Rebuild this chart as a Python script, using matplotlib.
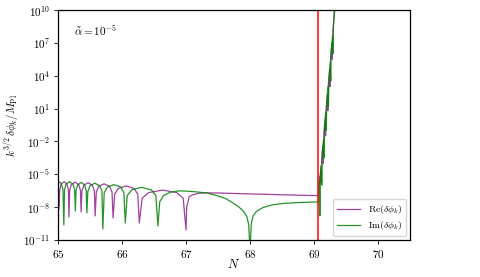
import numpy as np
import matplotlib
matplotlib.use("Agg")
import matplotlib.pyplot as plt

plt.rcParams['mathtext.fontset'] = 'cm'
plt.rcParams['font.family'] = 'serif'
plt.rcParams['font.serif'] = ['cmr10', 'DejaVu Serif']
plt.rcParams['axes.formatter.use_mathtext'] = True

# Re(delta phi_k): N and log10 of amplitude
re_N = [65.000, 65.016, 65.025, 65.047, 65.093, 65.139, 65.161,
        65.170, 65.181, 65.208, 65.265, 65.322, 65.349,
        65.360, 65.373, 65.404, 65.470, 65.536, 65.567,
        65.580, 65.597, 65.636, 65.720, 65.804, 65.843,
        65.860, 65.885, 65.942, 66.065, 66.188, 66.245,
        66.270, 66.314, 66.416, 66.635, 66.854, 66.956,
        67.000, 67.010, 67.050, 67.100, 67.200, 67.300, 67.500,
        68.000, 68.500, 69.070,
        69.080, 69.088, 69.095, 69.105, 69.112, 69.120, 69.140,
        69.147, 69.155, 69.175, 69.182, 69.190, 69.210, 69.217,
        69.225, 69.245, 69.252, 69.260, 69.280, 69.287, 69.295, 69.325]
re_log = [-6.50, -8.17, -6.43, -5.91, -5.68, -5.91, -6.43,
          -8.90, -6.47, -5.95, -5.72, -5.95, -6.47,
          -8.44, -6.53, -6.01, -5.78, -6.01, -6.53,
          -8.81, -6.63, -6.11, -5.88, -6.11, -6.63,
          -8.99, -6.82, -6.30, -6.07, -6.30, -6.82,
          -9.45, -7.20, -6.68, -6.45, -6.68, -7.20,
          -10.09, -8.00, -7.05, -6.90, -6.74, -6.70, -6.72,
          -6.80, -6.88, -6.96,
          -6.00, -5.20, -5.60, -4.60, -5.80, -3.80, -2.40,
          -4.00, -1.30, 0.00, -1.50, 1.00, 2.30, 0.80,
          3.20, 4.60, 3.00, 5.60, 7.00, 5.50, 7.90, 10.50]

# Im(delta phi_k)
im_N = [65.000, 65.050, 65.076, 65.090, 65.101, 65.126, 65.180, 65.234, 65.259,
        65.270, 65.281, 65.306, 65.360, 65.414, 65.439,
        65.450, 65.465, 65.500, 65.575, 65.650, 65.685,
        65.700, 65.721, 65.770, 65.875, 65.980, 66.029,
        66.050, 66.081, 66.152, 66.305, 66.458, 66.529,
        66.560, 66.590, 66.650, 66.750, 66.900, 67.100, 67.330, 67.500,
        67.610, 67.700, 67.820, 67.900, 67.950, 67.980,
        68.000, 68.020, 68.050, 68.100, 68.200, 68.350, 68.550, 68.800, 69.070,
        69.075, 69.085, 69.092, 69.100, 69.115, 69.122, 69.130, 69.150,
        69.158, 69.165, 69.185, 69.192, 69.200, 69.220, 69.226, 69.235,
        69.255, 69.262, 69.270, 69.290, 69.296, 69.305, 69.330]
im_log = [-5.63, -5.85, -6.40, -9.63, -6.43, -5.91, -5.68, -5.91, -6.43,
          -8.35, -6.50, -5.98, -5.75, -5.98, -6.50,
          -8.53, -6.57, -6.05, -5.82, -6.05, -6.57,
          -10.00, -6.70, -6.18, -5.95, -6.18, -6.70,
          -9.45, -6.95, -6.43, -6.20, -6.43, -6.95,
          -9.72, -7.50, -6.95, -6.65, -6.52, -6.58, -6.72, -6.98,
          -7.20, -7.50, -7.96, -8.40, -8.87, -9.60,
          -12.00, -9.50, -8.80, -8.40, -8.05, -7.80, -7.65, -7.58, -7.53,
          -7.50, -5.60, -8.80, -5.00, -4.20, -6.00, -3.00, -1.80,
          -3.50, -0.60, 0.70, -1.00, 1.60, 3.00, 1.20, 3.80,
          5.20, 3.50, 6.30, 7.60, 6.00, 8.60, 10.40]

N_cross = 69.07

fig = plt.figure(figsize=(4.8, 2.77), dpi=100)
ax = fig.add_axes([0.121, 0.134, 0.733, 0.830])

ax.plot(re_N, 10.0 ** np.array(re_log), color='purple', lw=0.9, alpha=0.75,
        label=r'$\mathrm{Re}(\delta\phi_k)$')
ax.plot(im_N, 10.0 ** np.array(im_log), color='green', lw=0.9, alpha=0.85,
        label=r'$\mathrm{Im}(\delta\phi_k)$')
ax.axvline(N_cross, color='red', lw=1.1)

ax.set_yscale('log')
ax.set_xlim(65, 70.5)
ax.set_ylim(1e-11, 1e10)
ax.set_yticks([10.0 ** e for e in range(-11, 11, 3)])
ax.minorticks_off()
ax.set_xticks([65, 66, 67, 68, 69, 70])
ax.tick_params(labelsize=8, length=3, width=0.6, pad=2.5)
for s in ax.spines.values():
    s.set_linewidth(0.9)

ax.set_xlabel(r'$N$', fontsize=9, labelpad=-1)
ax.set_ylabel(r'$k^{3/2}\,\delta\phi_k/M_{\rm Pl}$', fontsize=8, labelpad=2)
ax.text(0.045, 0.91, r'$\tilde{\alpha}=10^{-5}$', transform=ax.transAxes,
        fontsize=8, va='center')
ax.legend(loc='lower right', fontsize=7, handlelength=2.4,
          borderaxespad=0.4, labelspacing=0.3)

fig.savefig('out.png', dpi=100)
